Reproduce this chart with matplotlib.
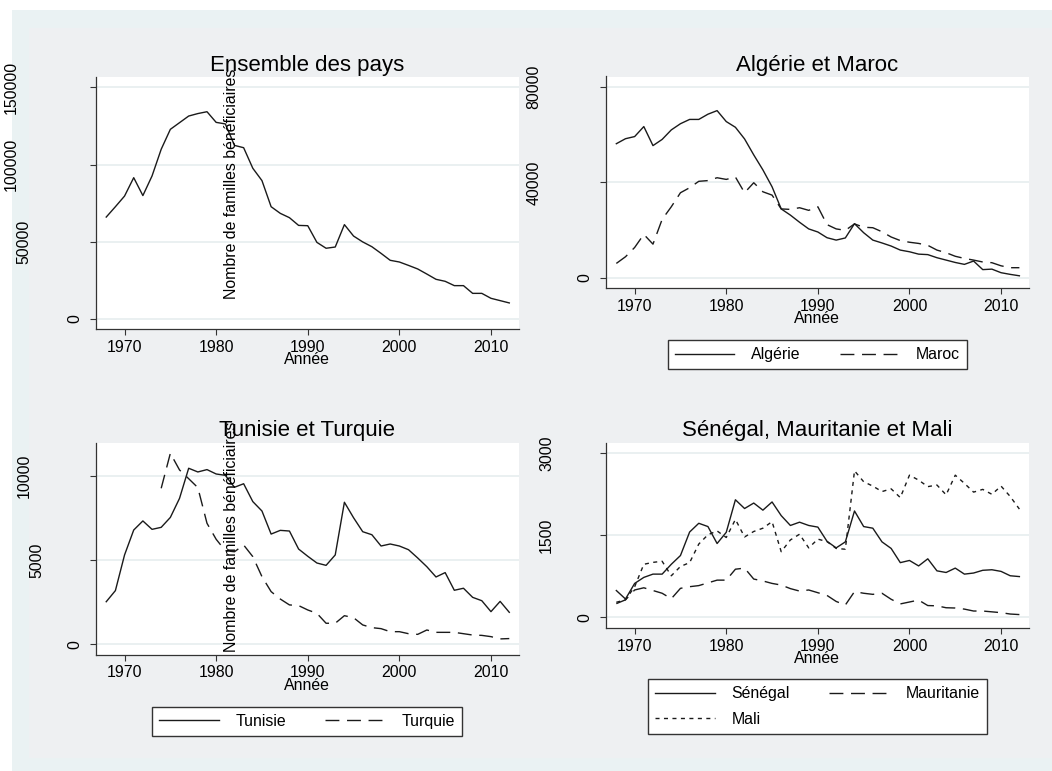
import numpy as np
import matplotlib.pyplot as plt
from matplotlib.patches import Rectangle

plt.rcParams['font.family'] = ['Liberation Sans', 'DejaVu Sans']

nan = np.nan
annees = list(range(1968, 2013))

ensemble = [66000, 72700, 79600, 91500, 79900, 92600, 109900, 122800, 127100, 131400,
            133000, 134200, 127300, 126300, 112400, 110900, 97600, 89600, 72700, 68400,
            65600, 60600, 60400, 49600, 45800, 46600, 61100, 53700, 49900, 46800,
            42500, 38000, 36900, 34700, 32400, 29100, 25700, 24400, 21600, 21600,
            16600, 16600, 13400, 11900, 10400]
algerie = [56300, 58400, 59300, 63500, 55500, 58100, 62100, 64700, 66500, 66500,
           68700, 70200, 65600, 63200, 58300, 51600, 45300, 38200, 28900, 26300,
           23300, 20500, 19200, 16800, 15800, 16700, 22700, 18900, 15800, 14600,
           13300, 11600, 10900, 9900, 9700, 8400, 7400, 6400, 5600, 7000,
           3400, 3600, 2100, 1400, 800]
maroc = [6000, 8800, 12700, 18200, 14100, 24500, 29800, 35700, 37800, 40500,
         40800, 42000, 41300, 42300, 35700, 39900, 36100, 34700, 28900, 28700,
         29400, 28300, 29800, 22300, 20500, 19900, 22600, 21200, 21000, 19300,
         17100, 15600, 14900, 14400, 13600, 11600, 10500, 9000, 8100, 7400,
         6600, 6300, 5000, 4200, 4200]
tunisie = [2530, 3190, 5310, 6790, 7330, 6830, 6950, 7540, 8670, 10460,
           10240, 10380, 10120, 10040, 9330, 9540, 8480, 7920, 6550, 6770,
           6730, 5660, 5230, 4830, 4690, 5310, 8440, 7520, 6690, 6510,
           5840, 5960, 5840, 5620, 5130, 4610, 4000, 4260, 3210, 3330,
           2790, 2590, 1940, 2550, 1900]
turquie = [nan, nan, nan, nan, nan, nan,
           9270, 11350, 10360, 9840, 9310, 7190, 6240, 5560, 5500, 5900,
           5210, 4020, 3130, 2690, 2340, 2300, 2040, 1840, 1250, 1250,
           1700, 1580, 1150, 990, 930, 750, 750, 630, 590, 850,
           710, 710, 710, 630, 550, 530, 455, 320, 340]
senegal = [490, 335, 620, 730, 790, 790, 970, 1130, 1560, 1720,
           1660, 1350, 1555, 2150, 1990, 2090, 1960, 2110, 1860, 1680,
           1740, 1680, 1650, 1390, 1270, 1380, 1945, 1660, 1630, 1380,
           1260, 1000, 1040, 940, 1070, 850, 820, 900, 790, 810,
           860, 870, 840, 760, 745]
mauritanie = [250, 320, 500, 540, 490, 440, 340, 530, 560, 580,
              630, 680, 680, 880, 900, 700, 665, 620, 590, 525,
              480, 500, 450, 400, 290, 225, 470, 440, 420, 440,
              330, 245, 280, 315, 215, 210, 175, 170, 150, 115,
              115, 100, 85, 60, 50]
mali = [275, 320, 560, 970, 1005, 1025, 760, 930, 1000, 1340,
        1510, 1580, 1460, 1790, 1470, 1570, 1630, 1750, 1200, 1415,
        1520, 1270, 1430, 1385, 1260, 1245, 2680, 2480, 2400, 2300,
        2350, 2190, 2600, 2510, 2390, 2420, 2240, 2600, 2450, 2290,
        2340, 2250, 2400, 2210, 1980]

W, H = 1052, 771
FS = 11.4
INK = '#1a1a1a'
AXC = '#333333'
GRID = '#e6edef'
SOLID = '-'
DASH = (0, (10, 5.5))
DOT = (0, (2.9, 3.2))

fig = plt.figure(figsize=(W / 100, H / 100), dpi=100, facecolor='white')
fig.patches.append(Rectangle((12 / W, 0), (W - 12) / W, (H - 10) / H,
                             transform=fig.transFigure, fc='#eaf2f3', ec='none', zorder=-3))
fig.patches.append(Rectangle((29 / W, 1 - 758 / H), (W - 29) / W, (758 - 28) / H,
                             transform=fig.transFigure, fc='#eef0f2', ec='none', zorder=-2))


def make_axes(l, t, r, b):
    return fig.add_axes([l / W, 1 - b / H, (r - l) / W, (b - t) / H])


def style(ax, title, ticks, ylim, pad, width_px):
    ax.set_facecolor('white')
    ax.set_xlim(1966.85, 2013.05)
    ax.set_ylim(*ylim)
    ax.set_xticks([1970, 1980, 1990, 2000, 2010])
    ax.set_yticks(ticks)
    ax.set_yticklabels([])
    for s in ['top', 'right']:
        ax.spines[s].set_visible(False)
    for s in ['left', 'bottom']:
        ax.spines[s].set_color(AXC)
        ax.spines[s].set_linewidth(0.9)
    ax.tick_params(direction='out', length=4, width=0.8, color=AXC,
                   labelsize=FS, pad=3.4)
    ax.yaxis.grid(True, color=GRID, lw=1.2)
    ax.set_axisbelow(True)
    ax.set_title(title, fontsize=16, pad=pad)
    ax.set_xlabel('Année', fontsize=FS, labelpad=-1.5)
    # Stata-style vertical tick labels
    tr = ax.get_yaxis_transform()
    for v in ticks:
        s = str(v)
        off = 20.5 + 12.85 * (len(s) - 1)
        ax.text(-off / width_px, v, s, transform=tr, rotation=90,
                ha='center', va='center', fontsize=FS)


def legend(ax, handles, labels, cx, top):
    leg = ax.legend(handles, labels, loc='upper center',
                    bbox_to_anchor=(cx / W, 1 - top / H), bbox_transform=fig.transFigure,
                    ncol=2, frameon=True, fancybox=False, framealpha=1,
                    edgecolor=AXC, facecolor='white', handlelength=3.76,
                    handletextpad=1.07, columnspacing=2.45, borderpad=0.45,
                    borderaxespad=0, labelspacing=0.65, fontsize=FS)
    leg.get_frame().set_linewidth(1.0)


# Ensemble des pays
ax1 = make_axes(95.7, 76.5, 518.9, 329.3)
ax1.plot(annees, ensemble, color=INK, lw=1.0, ls=SOLID)
style(ax1, 'Ensemble des pays', [0, 50000, 100000, 150000], (-6668, 157000), 4.2, 423.2)

# Algérie et Maroc
ax2 = make_axes(605.8, 76.5, 1029, 288.3)
l_alg, = ax2.plot(annees, algerie, color=INK, lw=1.0, ls=SOLID)
l_mar, = ax2.plot(annees, maroc, color=INK, lw=1.0, ls=DASH)
style(ax2, 'Algérie et Maroc', [0, 40000, 80000], (-4454, 84538), 4.2, 423.2)
legend(ax2, [l_alg, l_mar], ['Algérie', 'Maroc'], 817.4, 340)

# Tunisie et Turquie
ax3 = make_axes(95.7, 443.3, 518.9, 655)
l_tun, = ax3.plot(annees, tunisie, color=INK, lw=1.0, ls=SOLID)
l_tur, = ax3.plot(annees, turquie, color=INK, lw=1.0, ls=DASH)
style(ax3, 'Tunisie et Turquie', [0, 5000, 10000], (-636, 11943), 5.3, 423.2)
legend(ax3, [l_tun, l_tur], ['Tunisie', 'Turquie'], 307.3, 706.7)

# Sénégal, Mauritanie et Mali
ax4 = make_axes(605.8, 443.3, 1029, 628.3)
l_sen, = ax4.plot(annees, senegal, color=INK, lw=1.0, ls=SOLID)
l_mau, = ax4.plot(annees, mauritanie, color=INK, lw=1.0, ls=DASH)
l_mal, = ax4.plot(annees, mali, color=INK, lw=1.0, ls=DOT)
style(ax4, 'Sénégal, Mauritanie et Mali', [0, 1500, 3000], (-201, 3183), 5.3, 423.2)
legend(ax4, [l_sen, l_mal, l_mau], ['Sénégal', 'Mali', 'Mauritanie'], 817.4, 679.3)

# shared y title, drawn where Stata put it
for yc in (184, 537):
    fig.text(232 / W, 1 - yc / H, 'Nombre de familles bénéficiaires', rotation=90,
             ha='center', va='center', fontsize=FS)

fig.savefig('out.png', dpi=100, facecolor=fig.get_facecolor())
